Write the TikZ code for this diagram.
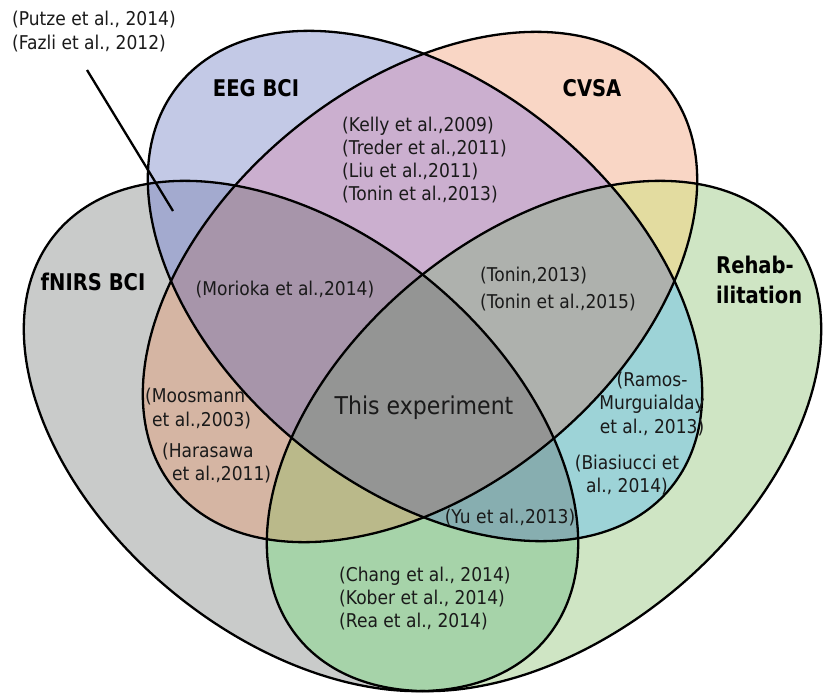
\documentclass[tikz,border=0pt]{standalone}
\usepackage{fontspec}
\setmainfont[FakeStretch=0.9]{DejaVu Sans}
\newfontfamily\titlefont[FakeStretch=0.85]{DejaVu Sans}
\definecolor{cF}{HTML}{C9CBCA}
\definecolor{cE}{HTML}{C3C9E6}
\definecolor{cC}{HTML}{F9D6C5}
\definecolor{cR}{HTML}{CFE5C4}
\definecolor{cFE}{HTML}{A3AACF}
\definecolor{cFC}{HTML}{D5B5A3}
\definecolor{cFR}{HTML}{A6D3A9}
\definecolor{cEC}{HTML}{CBAFCF}
\definecolor{cER}{HTML}{9DD3D7}
\definecolor{cCR}{HTML}{E3DCA0}
\definecolor{cFEC}{HTML}{A795AA}
\definecolor{cFER}{HTML}{87AEB0}
\definecolor{cFCR}{HTML}{BAB98A}
\definecolor{cECR}{HTML}{AEB1AD}
\definecolor{cAll}{HTML}{949594}
\definecolor{ink}{HTML}{1A1A1A}
\begin{document}
\begin{tikzpicture}[x=1pt,y=-1pt,
  outline/.style={draw=black,line width=2.3pt},
  cite/.style={inner sep=0pt,text=ink,font=\fontsize{19}{23.3}\selectfont},
  setname/.style={inner sep=0pt,text=black,font=\titlefont\bfseries\fontsize{23}{30}\selectfont}]
\useasboundingbox (0,0) rectangle (824,696);
% the four sets
\def\eF{(301,436) ellipse [x radius=318pt, y radius=202pt, rotate=-39.4]}
\def\eE{(425,286) ellipse [x radius=318pt, y radius=202pt, rotate=-39.4]}
\def\eC{(420,287) ellipse [x radius=318pt, y radius=202pt, rotate=39.4]}
\def\eR{(544,436) ellipse [x radius=318pt, y radius=202pt, rotate=39.4]}
% single sets
\fill[cF] \eF; \fill[cE] \eE; \fill[cC] \eC; \fill[cR] \eR;
% pairwise overlaps
\begin{scope}\clip \eF; \fill[cFE] \eE; \end{scope}
\begin{scope}\clip \eF; \fill[cFC] \eC; \end{scope}
\begin{scope}\clip \eF; \fill[cFR] \eR; \end{scope}
\begin{scope}\clip \eE; \fill[cEC] \eC; \end{scope}
\begin{scope}\clip \eE; \fill[cER] \eR; \end{scope}
\begin{scope}\clip \eC; \fill[cCR] \eR; \end{scope}
% triple overlaps
\begin{scope}\clip \eF; \clip \eE; \fill[cFEC] \eC; \end{scope}
\begin{scope}\clip \eF; \clip \eE; \fill[cFER] \eR; \end{scope}
\begin{scope}\clip \eF; \clip \eC; \fill[cFCR] \eR; \end{scope}
\begin{scope}\clip \eE; \clip \eC; \fill[cECR] \eR; \end{scope}
% all four
\begin{scope}\clip \eF; \clip \eE; \clip \eC; \fill[cAll] \eR; \end{scope}
% outlines
\draw[outline] \eF; \draw[outline] \eE; \draw[outline] \eC; \draw[outline] \eR;

% set names
\node[setname] (nE) at (256,88) {EEG BCI};
\node[setname] (nC) at (592,88) {CVSA};
\node[setname] (nF) at (93,282) {fNIRS BCI};
\node[setname,align=left,anchor=west] (nR) at (716,280) {Rehab-\\ilitation};

% references
\node[cite,align=left,anchor=west] (tFE) at (12,31.5) {(Putze et al., 2014)\\(Fazli et al., 2012)};
\coordinate (pFE) at (173,211);
\draw[line width=2.3pt,black] (87,70) -- (pFE);
\node[cite,align=left,anchor=west] (tEC) at (342,160) {(Kelly et al.,2009)\\(Treder et al.,2011)\\(Liu et al.,2011)\\(Tonin et al.,2013)};
\node[cite] (tFEC) at (285,290) {(Morioka et al.,2014)};
\node[inner sep=0pt,text=ink,font=\fontsize{24.5}{28}\selectfont] (tAll) at (424,408) {This experiment};
\node[cite,align=left,anchor=west] (tFC1) at (145,408.5) {(Moosmann\\\hspace*{7pt}et al.,2003)};
\node[cite,align=left,anchor=west] (tFC2) at (162,463) {(Harasawa\\\hspace*{10pt}et al.,2011)};
\node[cite,align=left,anchor=west,font=\fontsize{19}{27}\selectfont] (tECR) at (480,289.5) {(Tonin,2013)\\(Tonin et al.,2015)};
\node[cite,align=center] (tER1) at (652,404) {(Ramos-\\Murguialday\\et al., 2013)};
\node[cite,align=center] (tER2) at (627,475) {(Biasiucci et\\al., 2014)};
\node[cite] (tFER) at (510,518) {(Yu et al.,2013)};
\node[cite,align=left,anchor=west] (tFR) at (339,598.5) {(Chang et al., 2014)\\(Kober et al., 2014)\\(Rea et al., 2014)};
\end{tikzpicture}
\end{document}
